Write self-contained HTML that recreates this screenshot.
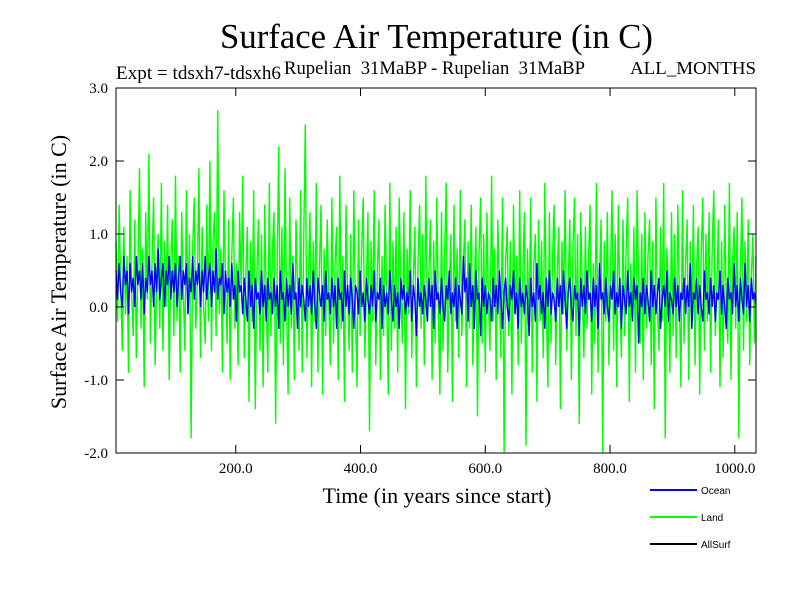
<!DOCTYPE html>
<html><head><meta charset="utf-8"><style>
body{margin:0;background:#fff}
svg{display:block}
text{font-family:"Liberation Serif",serif;fill:#000}
</style></head><body>
<svg id="chart" width="800" height="600" xmlns="http://www.w3.org/2000/svg">
<rect width="800" height="600" fill="#fff"/>
<text x="220" y="48" font-size="35" textLength="433" lengthAdjust="spacingAndGlyphs">Surface Air Temperature (in C)</text>
<text x="116" y="79" font-size="19" textLength="165" lengthAdjust="spacingAndGlyphs">Expt = tdsxh7-tdsxh6</text>
<text x="284" y="74" font-size="19" style="white-space:pre" textLength="301" lengthAdjust="spacingAndGlyphs">Rupelian  31MaBP - Rupelian  31MaBP</text>
<text x="630" y="74" font-size="18" textLength="126" lengthAdjust="spacingAndGlyphs">ALL_MONTHS</text>
<text transform="translate(66,272) rotate(-90)" font-size="22" text-anchor="middle">Surface Air Temperature (in C)</text>
<text x="437" y="503" font-size="22" text-anchor="middle">Time (in years since start)</text>
<g id="plot"></g>
<g id="axes"></g>
<g>
<line x1="650" y1="490" x2="697" y2="490" stroke="#0000ff" stroke-width="2"/>
<text x="701" y="494" font-size="10" style="font-family:'Liberation Sans',sans-serif">Ocean</text>
<line x1="650" y1="517" x2="697" y2="517" stroke="#00ff00" stroke-width="2"/>
<text x="701" y="521" font-size="10" style="font-family:'Liberation Sans',sans-serif">Land</text>
<line x1="650" y1="544" x2="697" y2="544" stroke="#000" stroke-width="2"/>
<text x="701" y="548" font-size="10" style="font-family:'Liberation Sans',sans-serif">AllSurf</text>
</g>
</svg>
<script>
const startYear = 8;
const endYear = 1034;
const xTicks = [200, 400, 600, 800, 1000];
const xTickLabels = ["200.0", "400.0", "600.0", "800.0", "1000.0"];
const yTicks = [-2, -1, 0, 1, 2, 3];
const yTickLabels = ["-2.0", "-1.0", "0.0", "1.0", "2.0", "3.0"];
const landValues = [
0.9,-0.2,1.4,0.3,-0.6,1.1,-0.1,0.7,-0.9,1.6,0.2,-0.4,1.2,-0.7,0.5,1.9,-0.3,0.8,-1.1,1.3,
0.1,2.1,-0.5,0.6,1.5,-0.8,0.4,1.0,-0.3,1.7,-0.6,0.9,0.0,1.4,-1.0,0.6,1.2,-0.4,1.8,-0.2,
0.7,-0.9,1.3,0.2,-0.6,1.6,-0.1,1.0,-1.8,0.8,1.5,-0.3,0.4,1.9,-0.7,1.1,0.0,-0.5,1.4,-0.2,
2.0,-0.6,0.9,1.3,-0.4,2.7,-0.1,0.8,-0.9,1.6,0.3,-0.5,1.2,-1.0,0.7,1.5,-0.3,0.6,-0.8,1.3,
0.2,1.8,-0.7,0.5,1.1,-1.3,0.9,-0.2,1.6,-1.4,0.4,1.2,-0.6,1.0,-1.1,1.4,0.1,-0.9,1.7,-0.4,
0.8,1.3,-1.6,0.6,2.2,-0.5,1.1,-0.8,1.9,0.0,-1.2,1.5,-0.3,0.7,-1.0,1.2,0.3,-0.6,1.6,-0.9,
1.0,2.5,-0.7,0.4,1.3,-1.1,0.9,-0.2,1.7,-0.9,0.5,1.4,-1.2,0.8,-0.4,1.2,0.1,-0.8,1.5,-0.5,
0.6,1.1,-1.0,1.8,-0.3,0.7,-1.3,1.4,0.2,-0.6,1.0,-0.9,1.6,0.0,-1.1,1.2,-0.4,0.8,1.5,-0.7,
0.3,1.3,-1.7,0.9,-0.2,1.6,-0.8,0.5,1.2,-1.0,0.7,-0.4,1.4,0.1,-1.2,1.7,-0.6,0.9,-0.3,1.1,
-0.9,1.5,0.2,-0.5,1.3,-1.4,0.8,-0.1,1.6,-0.7,0.4,1.1,-1.1,0.6,1.4,-0.3,1.0,-0.8,1.8,-0.2,
0.5,1.2,-1.0,0.9,-0.5,1.5,0.0,-1.2,1.3,-0.6,0.7,1.7,-0.9,0.3,1.0,-1.3,1.4,-0.2,0.8,-0.7,
1.6,-0.4,0.6,1.2,-1.1,0.9,-0.3,1.4,-0.8,0.2,1.1,-1.5,0.7,1.5,-0.5,1.0,-0.9,1.3,0.1,-0.6,
1.8,-0.2,0.8,-1.0,1.2,0.3,-0.7,1.5,-2.0,0.6,1.1,-0.4,0.9,-1.2,1.4,-0.1,0.7,-0.8,1.6,-0.5,
0.4,1.3,-1.9,0.8,-0.3,1.5,-0.9,0.6,1.0,-1.3,1.2,-0.2,0.9,-0.7,1.7,0.0,-1.1,1.3,-0.5,0.7,
1.4,-0.8,0.5,1.1,-1.4,0.9,-0.1,1.6,-0.6,0.3,1.2,-1.0,0.8,1.5,-0.4,1.0,-1.6,1.3,0.2,-0.7,
1.1,-0.3,0.7,1.4,-1.2,0.6,-0.5,1.7,-0.9,0.4,1.2,-2.0,0.9,-0.2,1.3,-0.8,0.5,1.6,-0.6,1.0,
-1.1,1.4,0.1,-0.7,1.2,-0.4,0.8,1.5,-1.3,0.6,-0.2,1.1,-0.9,1.6,0.3,-0.5,1.0,-1.0,1.3,-0.3,
0.7,1.2,-0.8,0.9,-1.4,1.5,0.0,-0.6,1.1,-0.2,1.7,-1.8,0.8,0.3,-0.9,1.3,-0.4,1.0,-0.7,1.4,
0.2,-1.1,1.6,-0.5,0.6,1.2,-1.0,0.9,-0.3,1.4,-0.8,0.5,1.1,-1.2,0.7,1.5,-0.6,1.0,-0.2,1.3,
-0.9,0.8,1.6,-0.4,0.3,1.2,-1.1,0.9,-0.7,1.4,0.0,-0.5,1.7,-1.0,0.6,1.1,-0.3,1.3,-1.8,0.5,
1.5,-0.6,0.9,-0.2,1.2,-0.8,0.4,1.0,-0.5,0.7];
const oceanValues = [
0.5,0.1,0.6,0.2,0.0,0.7,0.3,0.5,-0.1,0.6,0.2,0.4,0.0,0.7,0.3,0.5,0.1,0.6,-0.1,0.4,
0.2,0.7,0.3,0.5,0.0,0.6,0.2,0.8,0.1,0.4,0.6,0.0,0.5,0.3,0.7,0.1,0.5,0.2,0.6,0.0,
0.4,0.7,0.1,0.5,0.3,0.6,-0.1,0.4,0.2,0.7,0.1,0.5,0.3,0.6,0.0,0.5,0.2,0.7,0.1,0.4,
0.6,0.0,0.5,0.2,0.8,0.1,0.4,0.3,0.6,-0.1,0.5,0.2,0.4,0.0,0.6,0.1,0.3,-0.2,0.5,0.2,
0.3,-0.1,0.4,0.1,-0.2,0.5,0.0,0.3,-0.3,0.4,0.1,0.2,-0.1,0.5,0.0,0.3,-0.2,0.4,0.1,0.2,
-0.1,0.4,0.0,0.3,-0.3,0.5,0.1,0.2,-0.2,0.4,0.0,0.3,-0.1,0.6,0.1,0.2,-0.3,0.4,0.0,0.3,
0.1,-0.2,0.4,0.0,0.3,-0.1,0.5,0.1,-0.3,0.4,0.2,0.0,0.3,-0.2,0.5,0.1,0.2,-0.1,0.4,0.0,
0.3,-0.3,0.4,0.1,0.2,-0.2,0.5,0.0,0.3,-0.1,0.4,0.1,-0.3,0.3,0.2,-0.1,0.5,0.0,0.2,-0.2,
0.4,0.1,-0.1,0.3,0.0,0.5,-0.2,0.2,0.1,0.4,-0.3,0.3,0.0,0.2,-0.1,0.5,0.1,-0.2,0.3,0.0,
0.2,-0.3,0.4,0.1,0.3,-0.1,0.2,0.0,0.5,-0.2,0.3,0.1,-0.4,0.4,0.0,0.2,-0.1,0.3,0.1,-0.2,
0.4,0.0,0.3,-0.3,0.5,0.1,0.2,-0.1,0.4,0.0,-0.2,0.3,0.1,0.5,-0.1,0.2,0.0,0.4,-0.3,0.3,
0.1,-0.1,0.7,0.2,0.4,-0.2,0.6,0.0,0.3,-0.3,0.5,0.1,0.2,-0.4,0.4,0.0,0.3,-0.1,0.2,0.1,
-0.2,0.4,0.0,0.3,-0.1,0.5,0.1,-0.3,0.2,0.4,0.0,-0.2,0.3,0.1,0.5,-0.1,0.2,-0.3,0.4,0.0,
0.2,-0.1,0.3,0.1,-0.4,0.4,0.0,0.2,-0.2,0.6,0.1,0.3,-0.1,0.2,-0.3,0.4,0.0,0.5,-0.1,0.2,
0.1,-0.2,0.4,0.0,0.3,-0.1,0.5,0.1,-0.3,0.2,0.4,0.0,-0.2,0.3,0.1,0.2,-0.4,0.4,0.0,0.3,
-0.1,0.5,0.1,0.2,-0.2,0.4,0.0,0.3,-0.3,0.6,0.1,0.2,-0.1,0.4,0.0,-0.2,0.3,0.1,0.5,-0.1,
0.2,0.0,0.4,-0.3,0.3,0.1,-0.1,0.5,0.0,0.2,-0.2,0.4,0.1,0.3,-0.5,0.2,0.0,0.4,-0.1,0.3,
0.1,-0.2,0.5,0.0,0.3,-0.1,0.2,0.4,-0.3,0.1,0.3,0.0,0.5,-0.2,0.2,0.1,-0.1,0.4,0.0,0.3,
-0.2,0.2,0.1,0.4,-0.1,0.3,0.0,0.6,-0.3,0.2,0.1,0.4,-0.1,0.3,0.0,-0.2,0.5,0.1,0.2,-0.1,
0.4,0.0,0.3,-0.2,0.2,0.1,0.5,-0.1,0.3,0.0,-0.3,0.4,0.1,0.2,-0.1,0.6,0.0,0.3,-0.2,0.4,
0.1,-0.1,0.6,0.0,0.3,-0.2,0.4,0.1,0.2,0.0];

const L=116,R=756,T=88,B=453, X0=8,X1=1034, Y0=-2,Y1=3;
function xs(v){return L+(v-X0)/(X1-X0)*(R-L);}
function ys(v){return B-(v-Y0)/(Y1-Y0)*(B-T);}
const NS="http://www.w3.org/2000/svg";
const plot=document.getElementById('plot'), axes=document.getElementById('axes');
function line(vals,color,name){
  const p=document.createElementNS(NS,'polyline');
  
  
  const step=(endYear-startYear)/(vals.length-1);
  p.setAttribute('points',vals.map((v,i)=>xs(startYear+i*step).toFixed(1)+','+ys(v).toFixed(1)).join(' '));
  p.setAttribute('fill','none');p.setAttribute('stroke',color);p.setAttribute('stroke-width','1.4');
  plot.appendChild(p);
}
line(landValues,'#00ff00','land-series');
line(oceanValues,'#0000ff','ocean-series');
const frame=document.createElementNS(NS,'rect');


frame.setAttribute('x',L);frame.setAttribute('y',T);frame.setAttribute('width',R-L);frame.setAttribute('height',B-T);
frame.setAttribute('fill','none');frame.setAttribute('stroke','#000');
axes.appendChild(frame);
function mk(tag,attrs){const e=document.createElementNS(NS,tag);for(const k in attrs)e.setAttribute(k,attrs[k]);axes.appendChild(e);return e;}
xTicks.forEach((v,i)=>{
  const x=xs(v);
  const t1=mk('line',{x1:x,y1:B,x2:x,y2:B-8,stroke:'#000'});
  
  
  const t2=mk('line',{x1:x,y1:T,x2:x,y2:T+8,stroke:'#000'});
  
  
  const lb=mk('text',{x:x,y:B+20,'font-size':'15','text-anchor':'middle'});
  
  
  lb.textContent=xTickLabels[i];
});
yTicks.forEach((v,i)=>{
  const y=ys(v);
  const t1=mk('line',{x1:L,y1:y,x2:L+8,y2:y,stroke:'#000'});
  
  
  const t2=mk('line',{x1:R,y1:y,x2:R-8,y2:y,stroke:'#000'});
  
  
  const lb=mk('text',{x:L-8,y:y+5,'font-size':'15','text-anchor':'end'});
  
  
  lb.textContent=yTickLabels[i];
});
</script>
</body></html>
